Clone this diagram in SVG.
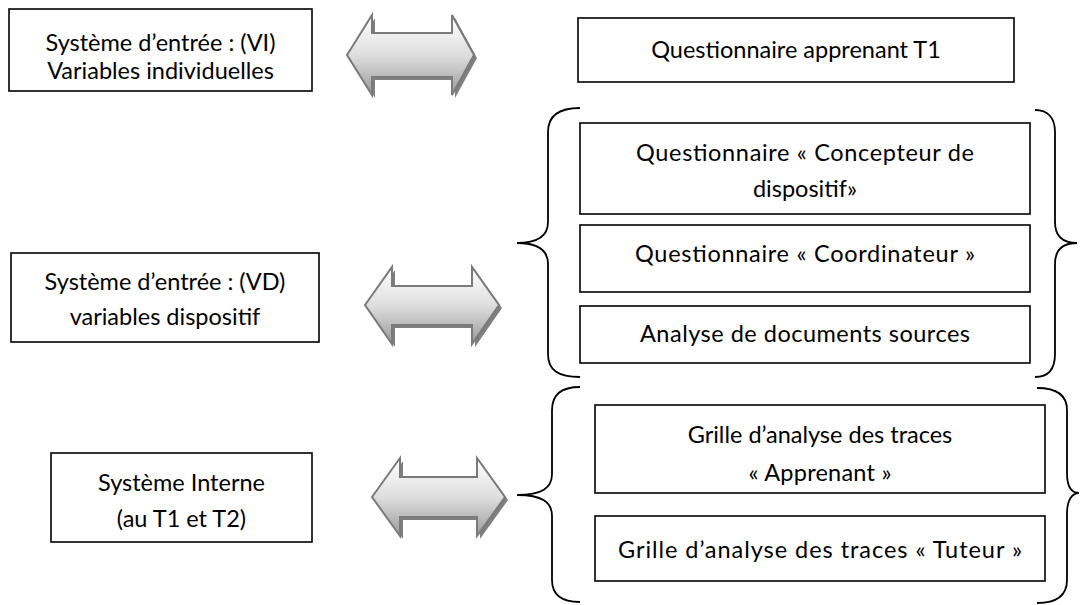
<svg xmlns="http://www.w3.org/2000/svg" width="1080" height="605" viewBox="0 0 1080 605">
<style>
.box{fill:#fff;stroke:#000;stroke-width:1.6}
.t{font-family:Lato,"Liberation Sans",sans-serif;font-size:23.5px;fill:#000;text-anchor:middle}
.brace{fill:none;stroke:#000;stroke-width:1.8}
.arr{fill:url(#g);stroke:#7a7a7a;stroke-width:2;stroke-linejoin:miter}
.sh{fill:#7f7f7f}
</style>
<defs>
<linearGradient id="g" x1="0" y1="0" x2="0" y2="1">
<stop offset="0" stop-color="#ffffff"/>
<stop offset="0.5" stop-color="#dedede"/>
<stop offset="1" stop-color="#9a9a9a"/>
</linearGradient>
</defs>
<rect width="1080" height="605" fill="#fff"/>

<g id="connectors">
<g id="arrow1">
<polygon class="sh" transform="translate(3,3)" points="347,55 372,15 372,33 452,33 452,15 474,55 452,95 452,77 372,77 372,95"/>
<polygon class="arr" points="347,55 372,15 372,33 452,33 452,15 474,55 452,95 452,77 372,77 372,95"/>
</g>
<g id="arrow2">
<polygon class="sh" transform="translate(3,3)" points="365,305 392,267 392,286 472,286 472,267 499,305 472,344 472,325 392,325 392,344"/>
<polygon class="arr" points="365,305 392,267 392,286 472,286 472,267 499,305 472,344 472,325 392,325 392,344"/>
</g>
<g id="arrow3">
<polygon class="sh" transform="translate(3,3)" points="372,497 400,458 400,477 477,477 477,458 505,497 477,536 477,517 400,517 400,536"/>
<polygon class="arr" points="372,497 400,458 400,477 477,477 477,458 505,497 477,536 477,517 400,517 400,536"/>
</g>
<path class="brace" d="M580,108 C558,108 548,116 548,132 L548,222 C548,236 538,243 517,243 C538,243 548,250 548,264 L548,354 C548,370 558,377 580,377"/>
<path class="brace" d="M1035,110 C1048,110 1055,118 1055,132 L1055,222 C1055,236 1062,243 1077,243 C1062,243 1055,250 1055,264 L1055,354 C1055,370 1048,377 1035,377"/>
<path class="brace" d="M580,387 C562,387 552,394 552,410 L552,474 C552,488 542,495 517,495 C542,495 552,502 552,516 L552,580 C552,595 562,602 580,602"/>
<path class="brace" d="M1037,388 C1057,388 1067,395 1067,410 L1067,473 C1067,487 1072,493 1079,493 C1072,493 1067,500 1067,514 L1067,580 C1067,596 1057,603 1037,603"/>
</g>

<g id="vi">
<rect class="box" x="9" y="9" width="303" height="82"/>
<text class="t" x="160.5" y="51">Système d’entrée : (VI)</text>
<text class="t" x="160.5" y="79">Variables individuelles</text>
</g>
<g id="vd">
<rect class="box" x="11" y="253" width="308" height="89"/>
<text class="t" x="165" y="290">Système d’entrée : (VD)</text>
<text class="t" x="165" y="325">variables dispositif</text>
</g>
<g id="interne">
<rect class="box" x="51" y="453" width="261" height="89"/>
<text class="t" x="181.5" y="491">Système Interne</text>
<text class="t" x="181.5" y="527">(au T1 et T2)</text>
</g>
<g id="qa-t1">
<rect class="box" x="578" y="18" width="436" height="64"/>
<text class="t" x="796" y="58">Questionnaire apprenant T1</text>
</g>
<g id="q-concepteur">
<rect class="box" x="580" y="123" width="450" height="91"/>
<text class="t" x="805" y="161" textLength="338" lengthAdjust="spacing">Questionnaire « Concepteur de</text>
<text class="t" x="805" y="197">dispositif»</text>
</g>
<g id="q-coordinateur">
<rect class="box" x="580" y="225" width="450" height="67"/>
<text class="t" x="805" y="262" textLength="340" lengthAdjust="spacing">Questionnaire « Coordinateur »</text>
</g>
<g id="analyse">
<rect class="box" x="580" y="306" width="450" height="57"/>
<text class="t" x="805" y="342" textLength="330" lengthAdjust="spacing">Analyse de documents sources</text>
</g>
<g id="grille-apprenant">
<rect class="box" x="595" y="405" width="450" height="88"/>
<text class="t" x="820" y="443">Grille d’analyse des traces</text>
<text class="t" x="820" y="481" textLength="143" lengthAdjust="spacing">« Apprenant »</text>
</g>
<g id="grille-tuteur">
<rect class="box" x="595" y="516" width="450" height="65"/>
<text class="t" x="820" y="558" textLength="404" lengthAdjust="spacing">Grille d’analyse des traces « Tuteur »</text>
</g>
</svg>
